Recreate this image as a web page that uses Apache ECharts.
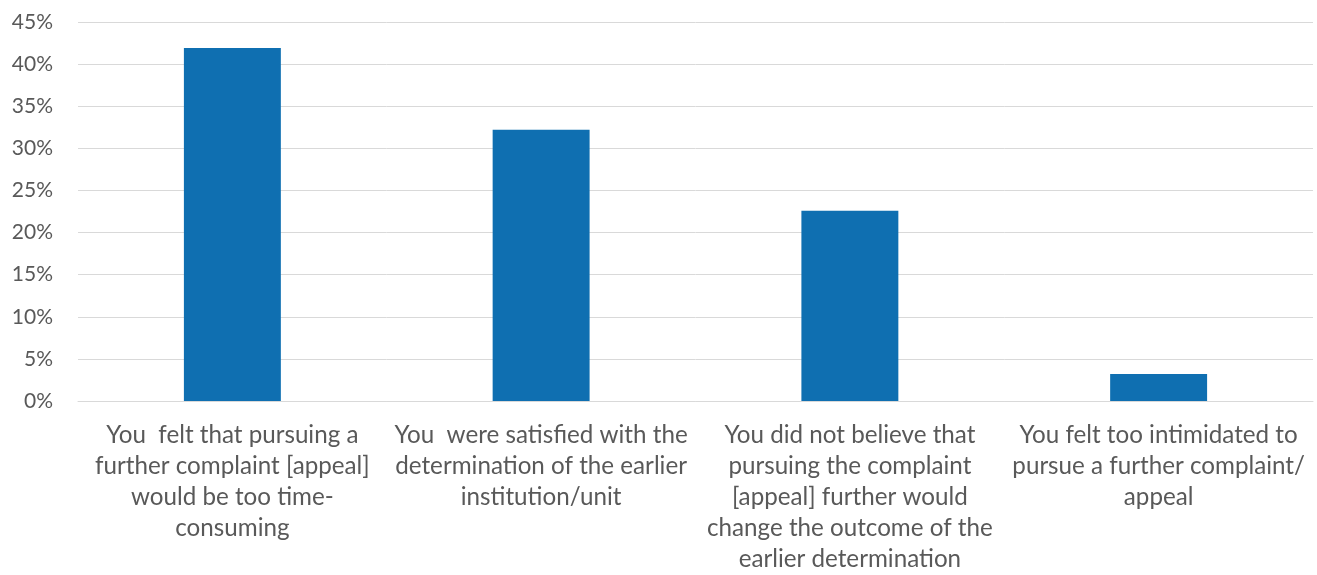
<!DOCTYPE html>
<html>
<head>
<meta charset="utf-8">
<script src="https://cdn.jsdelivr.net/npm/echarts@6/dist/echarts.min.js"></script>
<style>
  html, body { margin: 0; padding: 0; background: #fff; overflow: hidden; }
  #chart { width: 100vw; height: 100vh; }
</style>
</head>
<body>
<div id="chart"></div>
<script>
// Reasons for not pursuing a further complaint / appeal
const categories = [
  'You  felt that pursuing a\nfurther complaint [appeal]\nwould be too time-\nconsuming',
  'You  were satisfied with the\ndetermination of the earlier\ninstitution/unit',
  'You did not believe that\npursuing the complaint\n[appeal] further would\nchange the outcome of the\nearlier determination',
  'You felt too intimidated to\npursue a further complaint/\nappeal'
];
const shares = [41.9, 32.2, 22.6, 3.2];
const yTicks = [0, 5, 10, 15, 20, 25, 30, 35, 40, 45];

const chart = echarts.init(document.getElementById('chart'), null, { renderer: 'canvas' });
chart.setOption({
  animation: false,
  grid: { left: 78, right: 4, top: 22, height: 384, containLabel: false },
  xAxis: {
    type: 'category',
    data: categories,
    axisLine: { show: true, lineStyle: { color: '#d9d9d9', width: 1 } },
    axisTick: { show: false },
    axisLabel: {
      interval: 0,
      margin: 19,
      color: '#595959',
      fontFamily: 'Lato, "Open Sans", sans-serif',
      fontSize: 24.2,
      lineHeight: 31,
      align: 'center'
    }
  },
  yAxis: {
    type: 'value',
    min: yTicks[0],
    max: yTicks[yTicks.length - 1],
    interval: 5,
    axisLine: { show: false },
    axisTick: { show: false },
    splitLine: { lineStyle: { color: '#d9d9d9', width: 1 } },
    axisLabel: {
      margin: 25,
      color: '#595959',
      fontFamily: 'Lato, "Open Sans", sans-serif',
      fontSize: 21,
      formatter: v => v + '%'
    }
  },
  series: [{
    type: 'bar',
    data: shares,
    barWidth: '31.4%',
    itemStyle: { color: '#0f6fb1' }
  }]
});
window.addEventListener('resize', () => chart.resize());
</script>
</body>
</html>
